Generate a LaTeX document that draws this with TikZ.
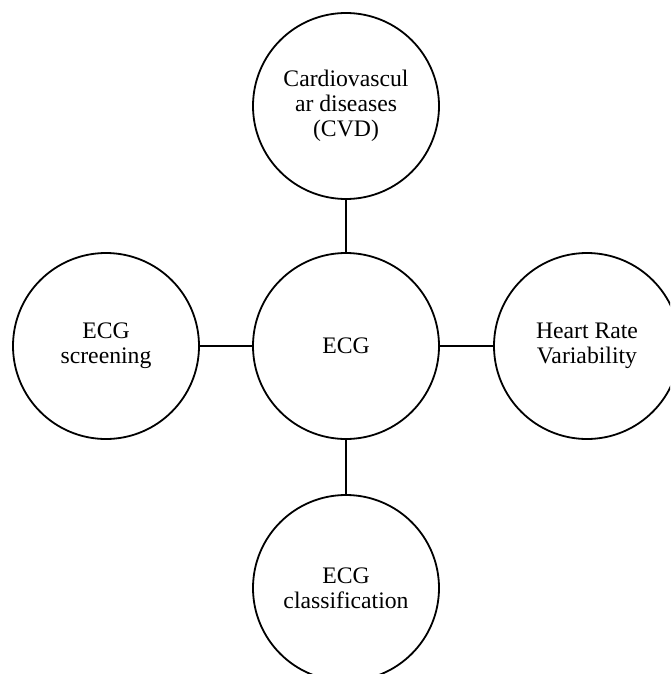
\documentclass[tikz,border=0pt]{standalone}
\usepackage{fontspec}
\setmainfont{Liberation Serif}
\begin{document}
\begin{tikzpicture}[x=1pt,y=-1pt,
  bub/.style={circle,draw,line width=1.8pt,minimum size=186pt,inner sep=0pt,align=center,font=\fontsize{23.7}{25}\selectfont},
  link/.style={line width=1.8pt}]
\useasboundingbox (0,0) rectangle (670,674);
\clip (0,0) rectangle (670,674);
\node[bub] (ecg) at (346,346) {ECG};
\node[bub] (cvd) at (346,106) {Cardiovascul\\ar diseases\\(CVD)};
\node[bub] (cls) at (346,588) {ECG\\classification};
\node[bub] (scr) at (106,346) {ECG\\screening};
\node[bub] (hrv) at (587,346) {Heart Rate\\Variability};
\draw[link] (ecg) -- (cvd);
\draw[link] (ecg) -- (cls);
\draw[link] (ecg) -- (scr);
\draw[link] (ecg) -- (hrv);
\end{tikzpicture}
\end{document}
